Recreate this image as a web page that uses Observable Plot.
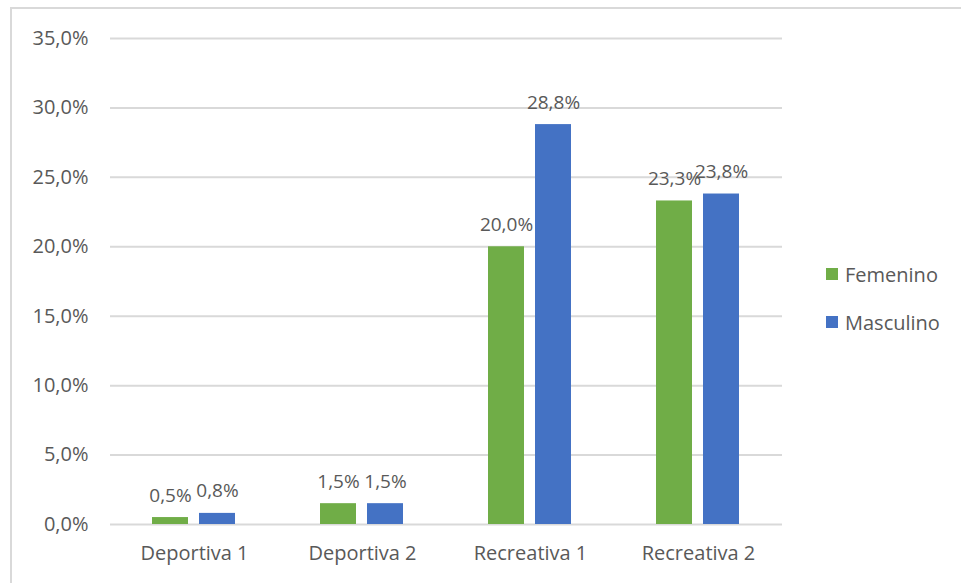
<!DOCTYPE html>
<html>
<head>
<meta charset="utf-8">
<script src="https://cdn.jsdelivr.net/npm/d3@7"></script>
<script src="https://cdn.jsdelivr.net/npm/@observablehq/plot@0.6"></script>
<style>
  html, body { margin: 0; padding: 0; background: #fff; }
  #wrap { position: relative; width: 961px; height: 583px; overflow: hidden; font-family: "Open Sans", sans-serif; }
  #frame { position: absolute; left: 10px; top: 7px; width: 1000px; height: 700px; border-left: 2px solid #d9d9d9; border-top: 2px solid #d9d9d9; box-sizing: border-box; }
  #chart { position: absolute; left: 0; top: 0; }
  #legend { position: absolute; left: 826px; top: 260px; font-size: 20px; color: #595959; }
  .item { display: flex; align-items: center; height: 28px; margin-bottom: 20px; }
  .sw { width: 12px; height: 12px; margin-right: 7px; }
</style>
</head>
<body>
<div id="wrap">
  <div id="frame"></div>
  <div id="chart"></div>
  <div id="legend"></div>
</div>
<script>
const categories = ["Deportiva 1", "Deportiva 2", "Recreativa 1", "Recreativa 2"];
const series = ["Femenino", "Masculino"];
const femenino = [0.5, 1.5, 20.0, 23.3];
const masculino = [0.8, 1.5, 28.8, 23.8];
const colors = ["#70AD47", "#4472C4"];
const yTicks = [0, 5, 10, 15, 20, 25, 30, 35];

const data = [];
categories.forEach((c, i) => {
  data.push({category: c, series: series[0], value: femenino[i]});
  data.push({category: c, series: series[1], value: masculino[i]});
});

const fmt = v => v.toFixed(1).replace(".", ",") + "%";
const textColor = "#595959";

const chart = Plot.plot({
  width: 961,
  height: 583,
  marginLeft: 108,
  marginRight: 178,
  marginTop: 38,
  marginBottom: 59,
  style: {fontFamily: "Open Sans, sans-serif", fontSize: "20px", color: textColor, background: "transparent"},
  fx: {domain: categories, padding: 0, label: null, axis: null},
  x: {domain: series, paddingInner: 0.23, paddingOuter: 0.873, axis: null},
  y: {domain: [0, 35], axis: null},
  color: {domain: series, range: colors},
  marks: [
    Plot.ruleY(yTicks, {stroke: "#d9d9d9", strokeWidth: 2}),
    Plot.barY(data, {fx: "category", x: "series", y: "value", fill: "series"}),
    Plot.text(data, {fx: "category", x: "series", y: "value", text: d => fmt(d.value), dy: -22, fill: textColor, fontSize: 19}),
    Plot.axisY(yTicks, {facetAnchor: "left", tickSize: 0, tickPadding: 22, tickFormat: fmt, fill: textColor, fontSize: 20, label: null}),
    Plot.axisFx({anchor: "bottom", tickSize: 0, tickPadding: 21, fill: textColor, fontSize: 20, label: null})
  ]
});
document.getElementById("chart").appendChild(chart);

const legend = document.getElementById("legend");
series.forEach((s, i) => {
  const item = document.createElement("div");
  item.className = "item";
  const sw = document.createElement("span");
  sw.className = "sw";
  sw.style.background = colors[i];
  const t = document.createElement("span");
  t.textContent = s;
  item.appendChild(sw);
  item.appendChild(t);
  legend.appendChild(item);
});
</script>
</body>
</html>
